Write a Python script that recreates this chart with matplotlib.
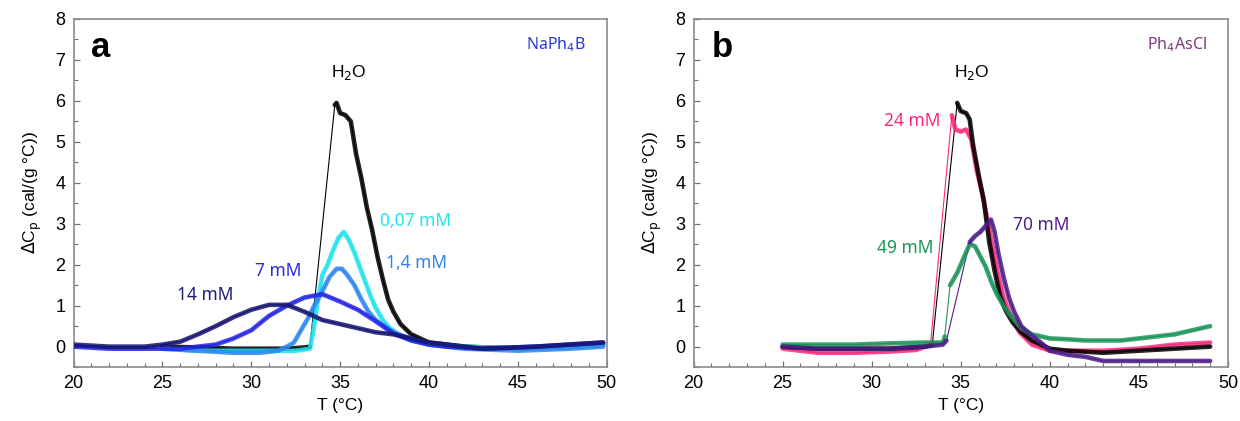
import matplotlib
matplotlib.use("Agg")
import matplotlib.pyplot as plt
import numpy as np
from matplotlib.ticker import MultipleLocator

# ---- panel a : NaPh4B ----
a_h2o_T = [25, 27, 29, 31, 32, 33, 33.3, 34.7, 34.8, 35.0, 35.3, 35.6, 35.9, 36.2, 36.5, 36.8,
           37.1, 37.4, 37.7, 38.0, 38.4, 39, 40, 42, 45, 48, 49.8]
a_h2o_cp = [0.0, -0.02, -0.05, -0.05, -0.05, -0.02, 0.0, 5.9, 5.95, 5.7, 5.65, 5.5, 4.7, 4.1,
            3.4, 2.85, 2.2, 1.65, 1.15, 0.85, 0.55, 0.3, 0.1, 0.0, -0.05, 0.0, 0.05]

a_007_T = [25, 27, 29, 31, 32.5, 33.3, 33.5, 33.7, 34.0, 34.3, 34.6, 34.9, 35.2, 35.5, 35.8,
           36.1, 36.4, 36.7, 37.0, 37.4, 37.8, 38.3, 39, 40, 42, 45, 48, 49.8]
a_007_cp = [-0.05, -0.1, -0.1, -0.1, -0.1, -0.05, 0.4, 1.0, 1.75, 2.0, 2.35, 2.65, 2.8, 2.6,
            2.3, 1.95, 1.6, 1.25, 0.95, 0.65, 0.45, 0.3, 0.15, 0.05, 0.0, -0.05, 0.0, 0.05]

a_14_T = [25, 27, 29, 30.5, 31.5, 32.0, 32.4, 32.8, 33.2, 33.6, 34.0, 34.4, 34.8, 35.1, 35.4,
          35.8, 36.2, 36.6, 37.0, 37.5, 38.0, 38.6, 39.3, 40, 42, 45, 48, 49.8]
a_14_cp = [-0.05, -0.1, -0.15, -0.15, -0.1, 0.0, 0.1, 0.4, 0.7, 1.05, 1.35, 1.7, 1.9, 1.9,
           1.75, 1.5, 1.15, 0.85, 0.65, 0.5, 0.35, 0.25, 0.15, 0.05, -0.05, -0.1, -0.05, 0.0]

a_7_T = [20, 22, 24, 26, 27, 28, 29, 30, 31, 32, 33, 34, 35, 36, 37, 38, 39, 40, 41, 43, 46, 49.8]
a_7_cp = [0.0, -0.05, -0.05, -0.05, 0.0, 0.05, 0.2, 0.4, 0.75, 1.0, 1.2, 1.28, 1.1, 0.9, 0.62,
          0.32, 0.15, 0.05, 0.0, -0.05, 0.0, 0.1]

a_140_T = [20, 22, 24, 25, 26, 27, 28, 29, 30, 31, 32, 33, 34, 35, 36, 37, 38, 39, 40, 41, 43, 46, 49.8]
a_140_cp = [0.05, 0.0, 0.0, 0.05, 0.12, 0.3, 0.5, 0.72, 0.9, 1.02, 1.02, 0.85, 0.65, 0.55, 0.45,
            0.35, 0.3, 0.2, 0.1, 0.05, -0.05, 0.0, 0.1]

# ---- panel b : Ph4AsCl ----
b_h2o_T = [25, 27, 29, 31, 33, 33.4, 34.8, 35.0, 35.3, 35.5, 35.7, 36.0, 36.3, 36.6, 36.9, 37.2,
           37.5, 37.9, 38.4, 39, 40, 41, 43, 45, 47, 49]
b_h2o_cp = [0.0, -0.05, -0.05, -0.05, 0.0, 0.05, 5.95, 5.75, 5.7, 5.55, 4.9, 4.2, 3.55, 2.55,
            1.85, 1.25, 0.9, 0.6, 0.35, 0.15, -0.05, -0.1, -0.15, -0.1, -0.05, 0.0]

b_24_T = [25, 27, 29, 31, 32.5, 33.3, 34.5, 34.7, 35.0, 35.3, 35.6, 35.9, 36.2, 36.5, 36.8, 37.1,
          37.4, 37.8, 38.3, 39, 40, 41, 43, 45, 47, 49]
b_24_cp = [-0.05, -0.15, -0.15, -0.12, -0.08, 0.05, 5.65, 5.3, 5.25, 5.3, 5.05, 4.3, 3.75, 3.1,
           2.4, 1.75, 1.2, 0.75, 0.35, 0.05, -0.1, -0.1, -0.1, -0.05, 0.05, 0.1]

b_49_T = [25, 27, 29, 31, 33, 34.0, 34.1, 34.4, 34.8, 35.2, 35.5, 35.8, 36.1, 36.4, 36.7, 37.0,
          37.4, 37.9, 38.4, 39, 40, 41, 42, 43, 44, 45, 46, 47, 48, 49]
b_49_cp = [0.05, 0.05, 0.05, 0.08, 0.1, 0.1, 0.25, 1.5, 1.8, 2.2, 2.5, 2.45, 2.2, 1.95, 1.6, 1.3,
           1.0, 0.7, 0.45, 0.3, 0.2, 0.18, 0.15, 0.15, 0.15, 0.2, 0.25, 0.3, 0.4, 0.5]

b_70_T = [25, 27, 29, 31, 33, 34.0, 34.2, 35.5, 35.8, 36.1, 36.4, 36.7, 36.9, 37.1, 37.4, 37.7,
          38.0, 38.4, 38.9, 39.5, 40, 41, 42, 43, 45, 47, 49]
b_70_cp = [0.0, -0.05, -0.05, -0.05, 0.0, 0.05, 0.15, 2.55, 2.7, 2.8, 2.95, 3.1, 2.8, 2.3, 1.7,
           1.2, 0.85, 0.5, 0.3, 0.1, -0.1, -0.2, -0.25, -0.35, -0.35, -0.35, -0.35]

# curves: (T, Cp, colour, sparse rising segment drawn thin)
panel_a = [
    (a_h2o_T, a_h2o_cp, "#000000", (33.3, 34.7)),
    (a_007_T, a_007_cp, "#1ee3ee", None),
    (a_14_T, a_14_cp, "#2f86f2", None),
    (a_7_T, a_7_cp, "#2424e6", None),
    (a_140_T, a_140_cp, "#15146e", None),
]
panel_b = [
    (b_24_T, b_24_cp, "#fb2a7c", (33.3, 34.5)),
    (b_h2o_T, b_h2o_cp, "#000000", (33.4, 34.8)),
    (b_49_T, b_49_cp, "#1c9558", (34.1, 34.4)),
    (b_70_T, b_70_cp, "#4c1d88", (34.2, 35.5)),
]

tick_font = "Liberation Sans"
note_font = "Noto Sans"

fig = plt.figure(figsize=(12.4, 4.21), dpi=100)
ax_a = fig.add_axes([0.0593, 0.128, 0.430, 0.827])
ax_b = fig.add_axes([0.5593, 0.128, 0.431, 0.827])


def draw_curve(ax, T, cp, color, gap):
    T = np.array(T, float)
    cp = np.array(cp, float)
    ax.plot(T, cp, color=color, lw=0.8, zorder=2)
    thick = cp.copy()
    if gap is not None:
        # only the sparse rising edge stays thin
        inside = (T > gap[0]) & (T < gap[1])
        thick[inside] = np.nan
        T2, c2 = [], []
        for i in range(len(T)):
            T2.append(T[i]); c2.append(thick[i])
            if i + 1 < len(T) and T[i] <= gap[0] and T[i + 1] >= gap[1]:
                T2.append(np.nan); c2.append(np.nan)
        T, thick = np.array(T2), np.array(c2)
    ax.plot(T, thick, color=color, lw=3.3, alpha=0.85, solid_capstyle="round",
            solid_joinstyle="round", zorder=3)


def style(ax):
    ax.set_xlim(20, 50)
    ax.set_ylim(-0.5, 8)
    ax.xaxis.set_major_locator(MultipleLocator(5))
    ax.xaxis.set_minor_locator(MultipleLocator(1))
    ax.yaxis.set_major_locator(MultipleLocator(1))
    ax.yaxis.set_minor_locator(MultipleLocator(0.5))
    for s in ax.spines.values():
        s.set_color("#8a8a8a")
        s.set_linewidth(1.2)
    ax.tick_params(which="both", direction="in", color="#707070", top=False, right=False)
    ax.tick_params(which="major", length=4, width=0.9, labelsize=13, pad=6)
    ax.tick_params(which="minor", length=3, width=0.8)
    for lab in ax.get_xticklabels() + ax.get_yticklabels():
        lab.set_fontfamily(tick_font)
    ax.set_xlabel("T (°C)", fontsize=12.5, fontfamily=tick_font, labelpad=4)
    ax.set_ylabel(r"$\Delta$C$_\mathrm{p}$ (cal/(g °C))", fontsize=12.5, fontfamily=tick_font, labelpad=8)


for T, cp, c, gap in panel_a:
    draw_curve(ax_a, T, cp, c, gap)
for T, cp, c, gap in panel_b:
    draw_curve(ax_b, T, cp, c, gap)

style(ax_a)
style(ax_b)

lab_fs = 12.5

# panel a texts
ax_a.text(21.0, 7.3, "a", fontsize=25, fontweight="bold", fontfamily=tick_font, va="center")
ax_a.text(48.8, 7.38, r"NaPh$_4$B", fontsize=11.5, color="#2a3ad8", fontfamily=note_font,
          ha="right", va="center")
ax_a.text(35.5, 6.7, r"H$_2$O", fontsize=12.5, fontfamily=tick_font, ha="center", va="center")
ax_a.text(39.25, 3.06, "0,07 mM", fontsize=lab_fs, color="#1ee3ee", fontfamily=note_font, ha="center", va="center")
ax_a.text(39.3, 2.04, "1,4 mM", fontsize=lab_fs, color="#2f86f2", fontfamily=note_font, ha="center", va="center")
ax_a.text(31.5, 1.84, "7 mM", fontsize=lab_fs, color="#2a2ae6", fontfamily=note_font, ha="center", va="center")
ax_a.text(27.4, 1.27, "14 mM", fontsize=lab_fs, color="#1d1d78", fontfamily=note_font, ha="center", va="center")

# panel b texts
ax_b.text(21.0, 7.3, "b", fontsize=25, fontweight="bold", fontfamily=tick_font, va="center")
ax_b.text(48.8, 7.37, r"Ph$_4$AsCl", fontsize=11.5, color="#7a3e7e", fontfamily=note_font,
          ha="right", va="center")
ax_b.text(35.6, 6.7, r"H$_2$O", fontsize=12.5, fontfamily=tick_font, ha="center", va="center")
ax_b.text(32.3, 5.51, "24 mM", fontsize=lab_fs, color="#fb2a7c", fontfamily=note_font, ha="center", va="center")
ax_b.text(31.9, 2.41, "49 mM", fontsize=lab_fs, color="#1c9558", fontfamily=note_font, ha="center", va="center")
ax_b.text(39.5, 2.98, "70 mM", fontsize=lab_fs, color="#4c1d88", fontfamily=note_font, ha="center", va="center")

fig.savefig("out.png", dpi=100)
